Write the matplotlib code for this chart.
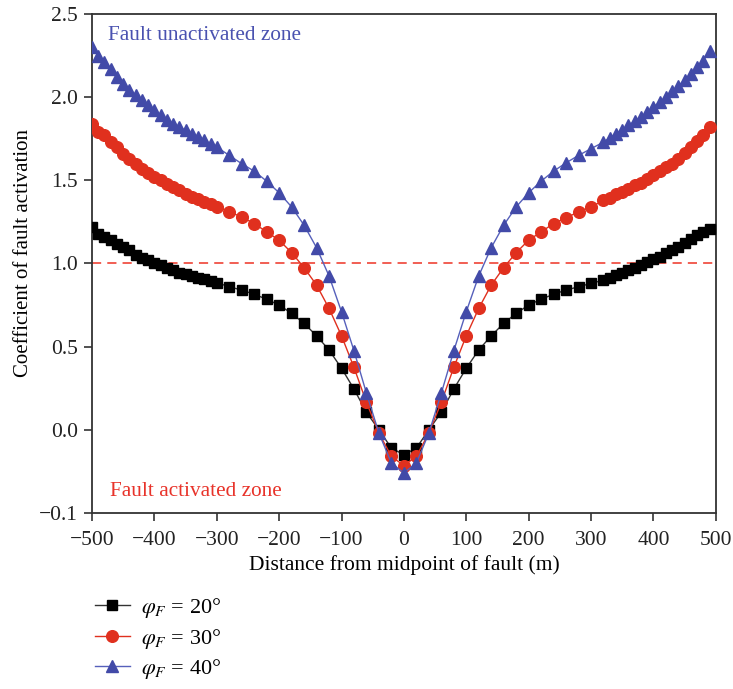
import numpy as np
import matplotlib
matplotlib.use('Agg')
import matplotlib.pyplot as plt

plt.rcParams['font.family'] = ['Liberation Serif', 'DejaVu Serif']
plt.rcParams['mathtext.fontset'] = 'stix'
plt.rcParams['axes.unicode_minus'] = True

# distance from fault midpoint (m): fine spacing near the ends, 20 m in the middle
x_left = list(range(-500, -299, 10))
x_mid = list(range(-280, 301, 20))
x_right = list(range(320, 491, 10))
distance = np.array(x_left + x_mid + x_right)

# coefficient of fault activation for each friction angle
coef_20 = [1.22, 1.18, 1.16, 1.14, 1.12, 1.10, 1.08, 1.05, 1.035, 1.02, 1.00,
           0.99, 0.97, 0.96, 0.945, 0.935, 0.925, 0.915, 0.905, 0.895, 0.885,
           0.86, 0.84, 0.815, 0.785, 0.75, 0.70, 0.64, 0.565, 0.48, 0.37,
           0.245, 0.105, 0.0, -0.11, -0.15, -0.11, 0.0, 0.105, 0.245, 0.37,
           0.48, 0.565, 0.64, 0.70, 0.75, 0.785, 0.815, 0.84, 0.86, 0.88,
           0.90, 0.915, 0.93, 0.945, 0.96, 0.975, 0.99, 1.01, 1.025, 1.04,
           1.06, 1.08, 1.10, 1.125, 1.145, 1.17, 1.19, 1.21]

coef_30 = [1.84, 1.79, 1.77, 1.73, 1.70, 1.66, 1.63, 1.60, 1.57, 1.545, 1.52,
           1.50, 1.48, 1.46, 1.44, 1.42, 1.40, 1.385, 1.37, 1.355, 1.34,
           1.31, 1.28, 1.24, 1.19, 1.14, 1.065, 0.975, 0.87, 0.73, 0.565,
           0.375, 0.165, -0.02, -0.16, -0.215, -0.16, -0.02, 0.165, 0.375, 0.565,
           0.73, 0.87, 0.975, 1.065, 1.14, 1.19, 1.24, 1.275, 1.31, 1.34,
           1.38, 1.395, 1.415, 1.43, 1.45, 1.47, 1.485, 1.505, 1.53, 1.555,
           1.58, 1.60, 1.63, 1.665, 1.70, 1.735, 1.775, 1.82]

coef_40 = [2.30, 2.25, 2.21, 2.17, 2.12, 2.08, 2.04, 2.01, 1.98, 1.95, 1.92,
           1.89, 1.86, 1.84, 1.82, 1.80, 1.78, 1.76, 1.74, 1.72, 1.70,
           1.65, 1.60, 1.555, 1.495, 1.425, 1.34, 1.23, 1.095, 0.925, 0.71,
           0.475, 0.22, -0.02, -0.20, -0.26, -0.20, -0.02, 0.22, 0.475, 0.71,
           0.925, 1.095, 1.23, 1.34, 1.425, 1.495, 1.555, 1.605, 1.65, 1.69,
           1.73, 1.755, 1.78, 1.805, 1.83, 1.855, 1.88, 1.91, 1.94, 1.97,
           2.00, 2.035, 2.065, 2.105, 2.14, 2.18, 2.22, 2.28]

series_labels = [r'$\varphi_F$ = 20°', r'$\varphi_F$ = 30°', r'$\varphi_F$ = 40°']
threshold = 1.0

x_ticks = list(range(-500, 501, 100))
y_ticks = [-0.5, 0.0, 0.5, 1.0, 1.5, 2.0, 2.5]
y_tick_labels = ['\u22120.1', '0.0', '0.5', '1.0', '1.5', '2.0', '2.5']

fig = plt.figure(figsize=(7.33, 6.89), dpi=100)
ax = fig.add_axes([0.1255, 0.2555, 0.851, 0.7242])

ax.plot(distance, coef_20, color='#333333', lw=1.0, marker='s', ms=7.4,
        mfc='black', mec='black', label=series_labels[0], zorder=3)
ax.plot(distance, coef_30, color='#e0301e', lw=1.0, marker='o', ms=8.4,
        mfc='#e0301e', mec='#e0301e', label=series_labels[1], zorder=4)
ax.plot(distance, coef_40, color='#5660bb', lw=1.0, marker='^', ms=8.8,
        mfc='#424aa8', mec='#424aa8', label=series_labels[2], zorder=5)

ax.axhline(threshold, color='#ee3325', lw=1.1, ls=(0, (6, 4)), zorder=2)

ax.text(-474, 2.37, 'Fault unactivated zone', color='#4a52b0', fontsize=15.3,
        va='center', ha='left')
ax.text(-471, -0.37, 'Fault activated zone', color='#e8332a', fontsize=15.3,
        va='center', ha='left')

ax.set_xlim(-500, 500)
ax.set_ylim(-0.5, 2.5)
ax.set_xticks(x_ticks)
ax.set_xticklabels([str(v).replace('-', '\u2212') for v in x_ticks])
ax.set_yticks(y_ticks)
ax.set_yticklabels(y_tick_labels)
ax.tick_params(direction='out', length=6, width=1.1, labelsize=15.5,
               colors='#222222', pad=4)
ax.tick_params(axis='x', pad=7)
ax.set_xlabel('Distance from midpoint of fault (m)', fontsize=15.5, labelpad=4)
ax.set_ylabel('Coefficient of fault activation', fontsize=15, labelpad=1)
ax.yaxis.set_label_coords(-0.095, 0.52)

for side in ['left', 'bottom', 'top', 'right']:
    ax.spines[side].set_color('#333333')
    ax.spines[side].set_linewidth(1.3)

handles, labels = ax.get_legend_handles_labels()
fig.legend(handles, labels, loc='upper left', bbox_to_anchor=(0.117, 0.148),
           frameon=False, fontsize=16, handlelength=1.6, labelspacing=0.3,
           handletextpad=0.5, borderaxespad=0.0)

fig.savefig('out.png', dpi=100)
